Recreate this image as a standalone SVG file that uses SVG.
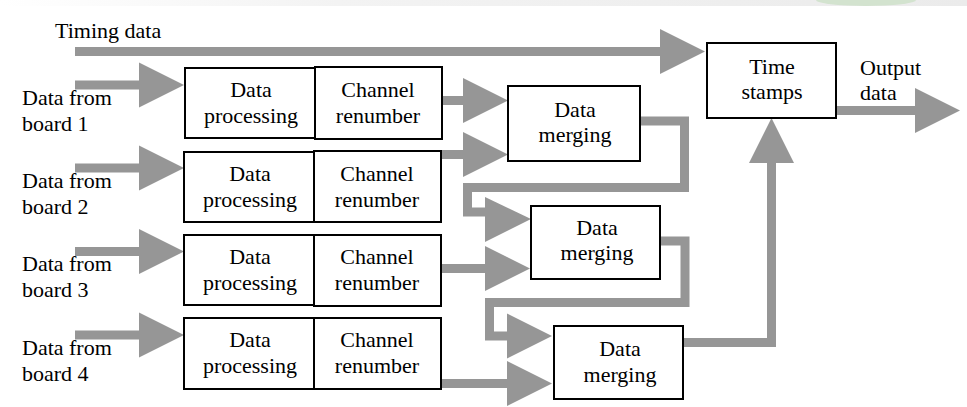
<svg xmlns="http://www.w3.org/2000/svg" width="967" height="407" viewBox="0 0 967 407">
  <style>
    .box { fill: #ffffff; stroke: #000000; stroke-width: 2; }
    .lbl { font-family: "Liberation Serif", "Times New Roman", Times, serif; font-size: 22px; fill: #000000; }
    .mid { text-anchor: middle; }
    .flow { fill: none; stroke: #969696; stroke-width: 9; stroke-linejoin: miter; marker-end: url(#head); }
    .pipe { fill: none; stroke: #969696; stroke-width: 9; stroke-linejoin: miter; }
    .tip { fill: #969696; }
  </style>
  <defs>
    <marker id="head" markerUnits="userSpaceOnUse" markerWidth="46" markerHeight="46" refX="0" refY="22.5" orient="auto" overflow="visible">
      <path d="M0,0 L45,22.5 L0,45 Z" fill="#969696"/>
    </marker>
    <linearGradient id="band" x1="0" y1="0" x2="1" y2="0">
      <stop offset="0" stop-color="#ffffff"/>
      <stop offset="0.35" stop-color="#f3f3f3"/>
      <stop offset="1" stop-color="#ebebeb"/>
    </linearGradient>
  </defs>

  <rect x="0" y="0" width="967" height="407" fill="#ffffff"/>
  <rect x="0" y="0" width="967" height="6" fill="url(#band)"/>
  <ellipse cx="866" cy="0" rx="50" ry="6" fill="#d3e3cf"/>

  <!-- connectors -->
  <g id="connectors">
    <path class="flow" d="M75,51.5 H660"/>
    <path class="flow" d="M75,85 H139"/>
    <path class="flow" d="M75,168 H139"/>
    <path class="flow" d="M75,251.5 H139"/>
    <path class="flow" d="M75,335 H139"/>
    <path class="flow" d="M442,100.5 H463"/>
    <path class="flow" d="M441,154.5 H463"/>
    <path class="pipe" d="M640,121 H684.5 V187.5 H467.5 V212 H486"/>
    <path class="tip" d="M485,197 L531,219 L485,242 Z"/>
    <path class="flow" d="M441,268.5 H485"/>
    <path class="flow" d="M660,241 H685 V302.5 H489.5 V336 H507"/>
    <path class="flow" d="M441,383.5 H507"/>
    <path class="flow" d="M683,342.5 H771.5 V163"/>
    <path class="flow" d="M836,110.5 H915"/>
  </g>

  <!-- free labels -->
  <text class="lbl" x="55" y="38">Timing data</text>
  <g id="in1"><text class="lbl" x="22" y="105">Data from</text><text class="lbl" x="22" y="131">board 1</text></g>
  <g id="in2"><text class="lbl" x="22" y="188">Data from</text><text class="lbl" x="22" y="214">board 2</text></g>
  <g id="in3"><text class="lbl" x="22" y="271">Data from</text><text class="lbl" x="22" y="297">board 3</text></g>
  <g id="in4"><text class="lbl" x="22" y="355">Data from</text><text class="lbl" x="22" y="381">board 4</text></g>
  <g id="out"><text class="lbl" x="860" y="75">Output</text><text class="lbl" x="860" y="100">data</text></g>

  <!-- row 1 -->
  <g id="proc1">
    <rect class="box" x="185" y="68" width="130" height="70"/>
    <text class="lbl mid" x="251" y="97">Data</text>
    <text class="lbl mid" x="251" y="123">processing</text>
  </g>
  <g id="renum1">
    <rect class="box" x="315" y="67" width="127" height="72"/>
    <text class="lbl mid" x="378" y="97">Channel</text>
    <text class="lbl mid" x="378" y="123">renumber</text>
  </g>

  <!-- row 2 -->
  <g id="proc2">
    <rect class="box" x="184" y="152" width="130" height="70"/>
    <text class="lbl mid" x="250" y="181">Data</text>
    <text class="lbl mid" x="250" y="207">processing</text>
  </g>
  <g id="renum2">
    <rect class="box" x="314" y="151" width="127" height="71"/>
    <text class="lbl mid" x="377" y="181">Channel</text>
    <text class="lbl mid" x="377" y="207">renumber</text>
  </g>

  <!-- row 3 -->
  <g id="proc3">
    <rect class="box" x="184" y="235" width="130" height="70"/>
    <text class="lbl mid" x="250" y="264">Data</text>
    <text class="lbl mid" x="250" y="290">processing</text>
  </g>
  <g id="renum3">
    <rect class="box" x="314" y="235" width="127" height="71"/>
    <text class="lbl mid" x="377" y="264">Channel</text>
    <text class="lbl mid" x="377" y="290">renumber</text>
  </g>

  <!-- row 4 -->
  <g id="proc4">
    <rect class="box" x="184" y="318" width="130" height="71"/>
    <text class="lbl mid" x="250" y="347">Data</text>
    <text class="lbl mid" x="250" y="373">processing</text>
  </g>
  <g id="renum4">
    <rect class="box" x="314" y="318" width="127" height="71"/>
    <text class="lbl mid" x="377" y="347">Channel</text>
    <text class="lbl mid" x="377" y="373">renumber</text>
  </g>

  <!-- merging stages -->
  <g id="merge1">
    <rect class="box" x="508" y="86" width="132" height="75"/>
    <text class="lbl mid" x="575" y="117">Data</text>
    <text class="lbl mid" x="575" y="142">merging</text>
  </g>
  <g id="merge2">
    <rect class="box" x="531" y="206" width="129" height="73"/>
    <text class="lbl mid" x="597" y="235">Data</text>
    <text class="lbl mid" x="597" y="260">merging</text>
  </g>
  <g id="merge3">
    <rect class="box" x="554" y="326" width="129" height="73"/>
    <text class="lbl mid" x="620" y="356">Data</text>
    <text class="lbl mid" x="620" y="382">merging</text>
  </g>

  <!-- time stamping -->
  <g id="stamps">
    <rect class="box" x="707" y="43" width="129" height="75"/>
    <text class="lbl mid" x="772" y="74">Time</text>
    <text class="lbl mid" x="772" y="99">stamps</text>
  </g>
</svg>
